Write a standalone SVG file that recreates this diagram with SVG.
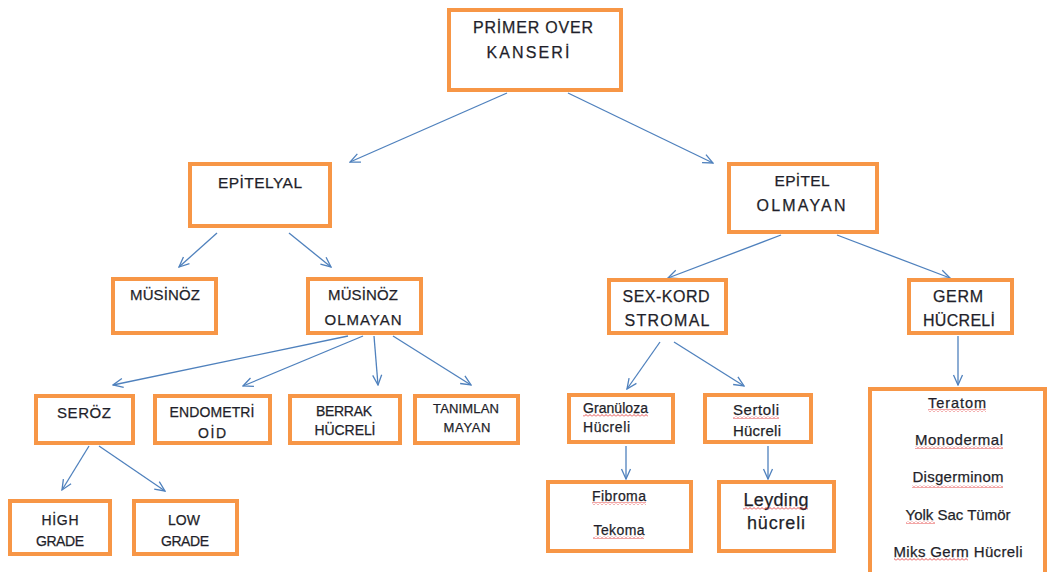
<svg xmlns="http://www.w3.org/2000/svg" width="1049" height="572" viewBox="0 0 1049 572">
<style>
.box{fill:#fff;stroke:#F79646;stroke-width:4}
.t{font-family:"Liberation Sans",Arial,sans-serif;fill:#1f1f2a;stroke:#1f1f2a;stroke-width:0.25;text-anchor:middle}
.l{text-anchor:start}
.c{stroke:#4F81BD;stroke-width:1.3;fill:none;marker-end:url(#ah)}
.sq{fill:url(#wave)}
</style>
<defs>
<marker id="ah" viewBox="0 0 12 12" refX="11" refY="6" markerWidth="12" markerHeight="12" markerUnits="userSpaceOnUse" orient="auto">
<path d="M1,1.5 L11,6 L1,10.5" fill="none" stroke="#4F81BD" stroke-width="1.3"/>
</marker>
<pattern id="wave" width="4" height="3" patternUnits="userSpaceOnUse">
<path d="M0,2.5 L2,0.5 L4,2.5" fill="none" stroke="#e02020" stroke-width="0.8"/>
</pattern>
</defs>
<rect width="1049" height="572" fill="#fff"/>
<g id="connectors">
<line class="c" x1="507" y1="93" x2="350" y2="162"/>
<line class="c" x1="568" y1="93" x2="713" y2="163"/>
<line class="c" x1="217" y1="233" x2="179" y2="267"/>
<line class="c" x1="289" y1="233" x2="331" y2="267"/>
<line class="c" x1="781" y1="235" x2="668" y2="278"/>
<line class="c" x1="837" y1="235" x2="950" y2="278"/>
<line class="c" x1="348" y1="336" x2="113" y2="385"/>
<line class="c" x1="363" y1="336" x2="243" y2="386"/>
<line class="c" x1="374" y1="336" x2="378" y2="385"/>
<line class="c" x1="393" y1="336" x2="471" y2="385"/>
<line class="c" x1="660" y1="342" x2="627" y2="389"/>
<line class="c" x1="674" y1="342" x2="744" y2="386"/>
<line class="c" x1="958" y1="336" x2="958" y2="385"/>
<line class="c" x1="89" y1="446" x2="62" y2="490"/>
<line class="c" x1="99" y1="446" x2="165" y2="491"/>
<line class="c" x1="626" y1="446" x2="626" y2="479"/>
<line class="c" x1="768" y1="446" x2="768" y2="479"/>
</g>
<g id="primer">
<rect class="box" x="449" y="10" width="172" height="80"/>
<text class="t" x="533" y="33" font-size="16" textLength="120" lengthAdjust="spacing">PRİMER OVER</text>
<text class="t" x="528" y="58" font-size="16" textLength="83" lengthAdjust="spacing">KANSERİ</text>
</g>
<g id="epitelyal">
<rect class="box" x="190" y="164" width="140" height="62"/>
<text class="t" x="260" y="188" font-size="15.5" textLength="84" lengthAdjust="spacing">EPİTELYAL</text>
</g>
<g id="epitel-olmayan">
<rect class="box" x="729" y="164" width="148" height="68"/>
<text class="t" x="802" y="186" font-size="15.5" textLength="55" lengthAdjust="spacing">EPİTEL</text>
<text class="t" x="801" y="211" font-size="16" textLength="89" lengthAdjust="spacing">OLMAYAN</text>
</g>
<g id="musinoz">
<rect class="box" x="113" y="279" width="103" height="54"/>
<text class="t" x="165" y="300" font-size="15" textLength="70" lengthAdjust="spacing">MÜSİNÖZ</text>
</g>
<g id="musinoz-olmayan">
<rect class="box" x="308" y="279" width="113" height="54"/>
<text class="t" x="363" y="300" font-size="15" textLength="70" lengthAdjust="spacing">MÜSİNÖZ</text>
<text class="t" x="363" y="325" font-size="15" textLength="77" lengthAdjust="spacing">OLMAYAN</text>
</g>
<g id="sex-kord">
<rect class="box" x="609" y="280" width="117" height="53"/>
<text class="t" x="666" y="302" font-size="16" textLength="87" lengthAdjust="spacing">SEX-KORD</text>
<text class="t" x="667" y="326" font-size="16" textLength="85" lengthAdjust="spacing">STROMAL</text>
</g>
<g id="germ">
<rect class="box" x="909" y="280" width="103" height="53"/>
<text class="t" x="958" y="302" font-size="16" textLength="50" lengthAdjust="spacing">GERM</text>
<text class="t" x="959" y="326" font-size="16" textLength="72" lengthAdjust="spacing">HÜCRELİ</text>
</g>
<g id="seroz">
<rect class="box" x="36" y="396" width="97" height="47"/>
<text class="t" x="84" y="418" font-size="15" textLength="54" lengthAdjust="spacing">SERÖZ</text>
</g>
<g id="endometrioid">
<rect class="box" x="155" y="396" width="115" height="47"/>
<text class="t" x="212" y="417" font-size="14" textLength="85" lengthAdjust="spacing">ENDOMETRİ</text>
<text class="t" x="212" y="438" font-size="14" textLength="28" lengthAdjust="spacing">OİD</text>
</g>
<g id="berrak">
<rect class="box" x="290" y="396" width="110" height="47"/>
<text class="t" x="344" y="416" font-size="14" textLength="56" lengthAdjust="spacing">BERRAK</text>
<text class="t" x="345" y="435" font-size="14" textLength="61" lengthAdjust="spacing">HÜCRELİ</text>
</g>
<g id="tanimlanmayan">
<rect class="box" x="415" y="396" width="103" height="47"/>
<text class="t" x="466" y="413" font-size="13" textLength="66" lengthAdjust="spacing">TANIMLAN</text>
<text class="t" x="467" y="432" font-size="13" textLength="47" lengthAdjust="spacing">MAYAN</text>
</g>
<g id="high-grade">
<rect class="box" x="10" y="501" width="100" height="53"/>
<text class="t" x="60" y="525" font-size="14" textLength="37" lengthAdjust="spacing">HİGH</text>
<text class="t" x="60" y="546" font-size="14" textLength="48" lengthAdjust="spacing">GRADE</text>
</g>
<g id="low-grade">
<rect class="box" x="134" y="501" width="103" height="53"/>
<text class="t" x="184" y="525" font-size="14" textLength="32" lengthAdjust="spacing">LOW</text>
<text class="t" x="185" y="546" font-size="14" textLength="48" lengthAdjust="spacing">GRADE</text>
</g>
<g id="granuloza">
<rect class="box" x="569" y="395" width="104" height="47"/>
<text class="t l" x="583" y="413" font-size="14" textLength="65" lengthAdjust="spacing">Granüloza</text>
<text class="t l" x="583" y="432" font-size="14" textLength="47" lengthAdjust="spacing">Hücreli</text>
<rect class="sq" x="583" y="414" width="65" height="3"/>
</g>
<g id="sertoli">
<rect class="box" x="705" y="395" width="106" height="47"/>
<text class="t l" x="733" y="415" font-size="15" textLength="46" lengthAdjust="spacing">Sertoli</text>
<text class="t l" x="733" y="436" font-size="15" textLength="48" lengthAdjust="spacing">Hücreli</text>
<rect class="sq" x="733" y="416" width="46" height="3"/>
</g>
<g id="fibroma-tekoma">
<rect class="box" x="548" y="482" width="143" height="69"/>
<text class="t" x="619" y="501" font-size="14" textLength="54" lengthAdjust="spacing">Fibroma</text>
<text class="t" x="619" y="535" font-size="14" textLength="51" lengthAdjust="spacing">Tekoma</text>
<rect class="sq" x="592" y="502" width="54" height="3"/>
<rect class="sq" x="593" y="536" width="51" height="3"/>
</g>
<g id="leyding">
<rect class="box" x="719" y="482" width="115" height="69"/>
<text class="t" x="776" y="506" font-size="18" textLength="65" lengthAdjust="spacing">Leyding</text>
<text class="t" x="776" y="529" font-size="18" textLength="58" lengthAdjust="spacing">hücreli</text>
<rect class="sq" x="743" y="507" width="65" height="3"/>
</g>
<g id="germ-list">
<rect class="box" x="870" y="389" width="175" height="200"/>
<text class="t" x="957" y="408" font-size="14.5" textLength="58" lengthAdjust="spacing">Teratom</text>
<text class="t" x="959" y="445" font-size="15" textLength="88" lengthAdjust="spacing">Monodermal</text>
<text class="t" x="958" y="482" font-size="15" textLength="91" lengthAdjust="spacing">Disgerminom</text>
<text class="t" x="958" y="520" font-size="15" textLength="105" lengthAdjust="spacing">Yolk Sac Tümör</text>
<text class="t" x="958" y="557" font-size="15" textLength="129" lengthAdjust="spacing">Miks Germ Hücreli</text>
<rect class="sq" x="928" y="409" width="58" height="3"/>
<rect class="sq" x="915" y="446" width="88" height="3"/>
<rect class="sq" x="912" y="485" width="91" height="3"/>
<rect class="sq" x="906" y="521" width="29" height="3"/>
<rect class="sq" x="894" y="558" width="74" height="3"/>
</g>
</svg>
